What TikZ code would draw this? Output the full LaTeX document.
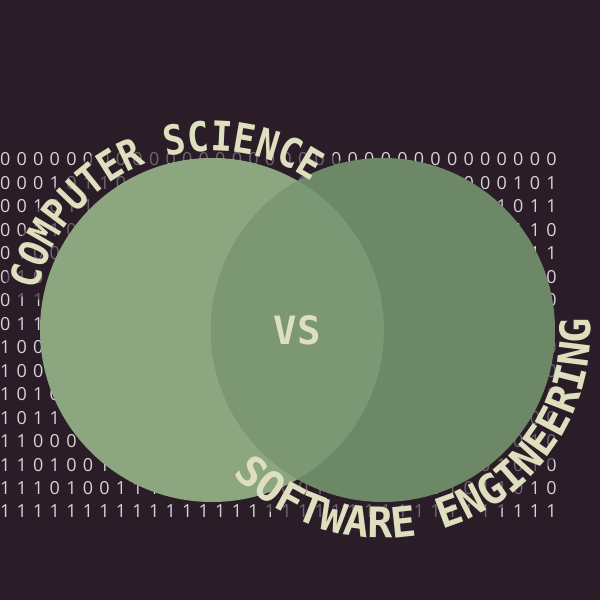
\documentclass[tikz,border=0pt]{standalone}
\usepackage{fontspec}
\usetikzlibrary{decorations.text,calc}

\newfontfamily\digitfont{Open Sans}
\newfontface\csfont[FakeStretch=0.88]{DejaVu Sans Mono Bold}
\newfontface\sefont[FakeStretch=1.0]{DejaVu Sans Mono Bold}
\newfontface\vsfont{DejaVu Sans Mono Bold}

\definecolor{bg}{HTML}{2A1D28}
\definecolor{leftgreen}{HTML}{8CA680}
\definecolor{rightgreen}{HTML}{6C8866}
\definecolor{midgreen}{HTML}{7C9773}
\definecolor{cream}{HTML}{DEDFBF}
\definecolor{bitcol}{HTML}{D8D2D8}

% one row of binary digits, each digit in a fixed-width cell
\def\bitloop#1{\ifx\relax#1\else\hbox to 16.55pt{\hss#1\hss}\expandafter\bitloop\fi}
\newcommand\bitrow[1]{\expandafter\bitloop#1\relax}

\begin{document}
\begin{tikzpicture}[x=1pt,y=1pt,
  digits/.style={anchor=west,inner sep=0pt,text=bitcol,
    font=\digitfont\fontsize{18pt}{18pt}\selectfont},
  band/.style={draw=bg,opacity=0.6},
  disc/.style={radius=172}]
\fill[bg] (0,0) rectangle (600,600);
\useasboundingbox (0,0) rectangle (600,600);

% binary wall
\foreach \bits [count=\i] in {
  0000000000000000000000000000000000,
  0001011010011010110100101100000101,
  0010110100101101001011010101011011,
  0011010110010110100101101001010110,
  0100101101001011010110010110101011,
  0101100101101001011001011010010110,
  0110101001011010011010010110101010,
  0111010110100101100101101001011001,
  1000101101001011010010110100101010,
  1001011010010110100101001011010110,
  1010010110110100101101011001001011,
  1011001011010010110100101101001100,
  1100010110100101101001011010010010,
  1101001011011010010110100101101010,
  1110100111010110100101101001011010,
  1111111111111111111111111111111111}{
  \node[digits] (row\i) at (-3.28,{440.5-(\i-1)*23.47}) {\bitrow{\bits}};
}

\coordinate (L) at (212,270);
\coordinate (R) at (383,270);

% dark bands behind the curved titles
\draw[band,line width=40pt] ($(L)+(170:192)$) arc[start angle=170,end angle=52,radius=192];
\draw[band,line width=42pt] ($(R)+(218:193)$) arc[start angle=218,end angle=367,radius=193];

% the two discs and their overlap
\fill[leftgreen] (L) circle[disc];
\fill[rightgreen] (R) circle[disc];
\begin{scope}
  \clip (L) circle[disc];
  \fill[midgreen] (R) circle[disc];
\end{scope}

% curved titles
\path[decorate,decoration={text along path,text align=center,
  text={|\csfont\fontsize{41pt}{41pt}\selectfont\color{cream}|COMPUTER SCIENCE}}]
  ($(L)+(167.5:179)$) arc[start angle=167.5,end angle=55.5,radius=179];
\path[decorate,decoration={text along path,text align=center,
  text={|\sefont\fontsize{42pt}{42pt}\selectfont\color{cream}|SOFTWARE ENGINEERING}}]
  ($(R)+(223.6:208)$) arc[start angle=223.6,end angle=363.6,radius=208];

\node[text=cream,font=\vsfont\fontsize{39pt}{39pt}\selectfont,inner sep=0pt] (vs) at (297,270) {VS};
\end{tikzpicture}
\end{document}
